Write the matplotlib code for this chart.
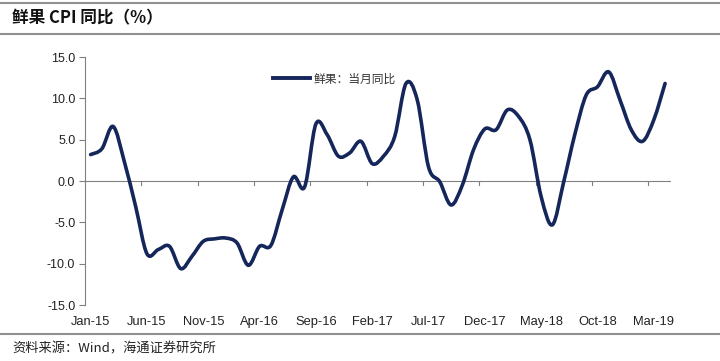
import matplotlib
matplotlib.use("Agg")
import matplotlib.pyplot as plt
from matplotlib.path import Path
from matplotlib.patches import PathPatch
from matplotlib.lines import Line2D
import numpy as np

plt.rcParams['font.family'] = ['Liberation Sans', 'Noto Sans CJK SC', 'DejaVu Sans']

title = "鲜果 CPI 同比（%）"
series_name = "鲜果：当月同比"
source = "资料来源：Wind，海通证券研究所"

months = ["Jan-15", "Feb-15", "Mar-15", "Apr-15", "May-15", "Jun-15", "Jul-15", "Aug-15", "Sep-15", "Oct-15",
          "Nov-15", "Dec-15", "Jan-16", "Feb-16", "Mar-16", "Apr-16", "May-16", "Jun-16", "Jul-16", "Aug-16",
          "Sep-16", "Oct-16", "Nov-16", "Dec-16", "Jan-17", "Feb-17", "Mar-17", "Apr-17", "May-17", "Jun-17",
          "Jul-17", "Aug-17", "Sep-17", "Oct-17", "Nov-17", "Dec-17", "Jan-18", "Feb-18", "Mar-18", "Apr-18",
          "May-18", "Jun-18", "Jul-18", "Aug-18", "Sep-18", "Oct-18", "Nov-18", "Dec-18", "Jan-19", "Feb-19",
          "Mar-19", "Apr-19"]
values = [3.2, 3.9, 6.6, 2.3, -3.1, -8.8, -8.3, -7.9, -10.6, -9.1,
          -7.3, -7.0, -6.9, -7.5, -10.2, -7.9, -7.8, -3.5, 0.5, -0.7,
          6.9, 5.6, 3.0, 3.4, 4.8, 2.1, 3.0, 5.4, 11.8, 9.8,
          1.7, -0.1, -2.9, -0.5, 3.8, 6.3, 6.2, 8.6, 7.8, 5.0,
          -1.9, -5.3, -0.1, 5.7, 10.4, 11.4, 13.2, 9.8, 6.2, 4.8,
          7.4, 11.8]
yticks = [-15, -10, -5, 0, 5, 10, 15]

line_color = "#15265a"

fig = plt.figure(figsize=(7.2, 3.61), dpi=100)
ax = fig.add_axes([85/720, 1-305/361, (670.7-85)/720, (305-57)/361])

x = np.arange(len(values), dtype=float)
y = np.array(values, dtype=float)

# smooth (Excel-like) Bezier path through the data points
verts = [(x[0], y[0])]
codes = [Path.MOVETO]
n = len(x)
for i in range(n - 1):
    p0 = np.array([x[max(i-1, 0)], y[max(i-1, 0)]])
    p1 = np.array([x[i], y[i]])
    p2 = np.array([x[i+1], y[i+1]])
    p3 = np.array([x[min(i+2, n-1)], y[min(i+2, n-1)]])
    c1 = p1 + (p2 - p0) / 6.0
    c2 = p2 - (p3 - p1) / 6.0
    verts += [tuple(c1), tuple(c2), tuple(p2)]
    codes += [Path.CURVE4, Path.CURVE4, Path.CURVE4]
patch = PathPatch(Path(verts, codes), facecolor='none', edgecolor=line_color, lw=2.6,
                  capstyle='round', joinstyle='round', zorder=3)
ax.add_patch(patch)

ax.set_xlim(-0.5, len(values) - 0.5)
ax.set_ylim(-15, 15)

for s in ['top', 'right', 'bottom']:
    ax.spines[s].set_visible(False)
ax.spines['left'].set_color('#808080')
ax.spines['left'].set_linewidth(0.8)

ax.axhline(0, color='#808080', lw=0.8, zorder=2)

ax.set_yticks(yticks)
ax.set_yticklabels([f"{v:.1f}" for v in yticks], fontsize=9, color='#222222')
ax.tick_params(axis='y', direction='out', length=4, color='#808080', pad=3)

# x tick labels at bottom, every 5 months
lab_idx = list(range(0, len(months), 5))
ax.set_xticks(lab_idx)
ax.set_xticklabels([months[i] for i in lab_idx], fontsize=9.3, color='#222222')
ax.tick_params(axis='x', length=0, pad=8)

# tick marks on the zero line at category boundaries
for b in np.arange(4.5, len(months), 5):
    ax.plot([b, b], [0, -0.5], color='#808080', lw=0.8, zorder=2, clip_on=False)

leg = ax.legend([Line2D([0], [0], color=line_color, lw=2.8)], [series_name],
                loc='upper left', bbox_to_anchor=((262-85)/(670.7-85), 1-(62-57)/248),
                frameon=False, fontsize=8.5, handlelength=3.2, handletextpad=0.3)
for t in leg.get_texts():
    t.set_family(['Noto Sans CJK SC', 'DejaVu Sans'])
    t.set_color('#333333')

# header / footer
fig.text(12/720, 1-18/361, title, fontsize=12, fontweight='bold', va='center', ha='left',
         family=['Noto Sans CJK SC', 'DejaVu Sans'], color='#111111')
fig.add_artist(Line2D([0, 1], [1-2.5/361, 1-2.5/361], color='#909090', lw=1.5))
fig.add_artist(Line2D([0, 1], [1-34/361, 1-34/361], color='#909090', lw=1.5))
fig.add_artist(Line2D([0, 1], [1-334/361, 1-334/361], color='#909090', lw=1.5))
fig.text(12/720, 1-349/361, source, fontsize=9.5, va='center', ha='left',
         family=['Noto Sans CJK SC', 'DejaVu Sans'], color='#222222')

fig.savefig("out.png", dpi=100)
